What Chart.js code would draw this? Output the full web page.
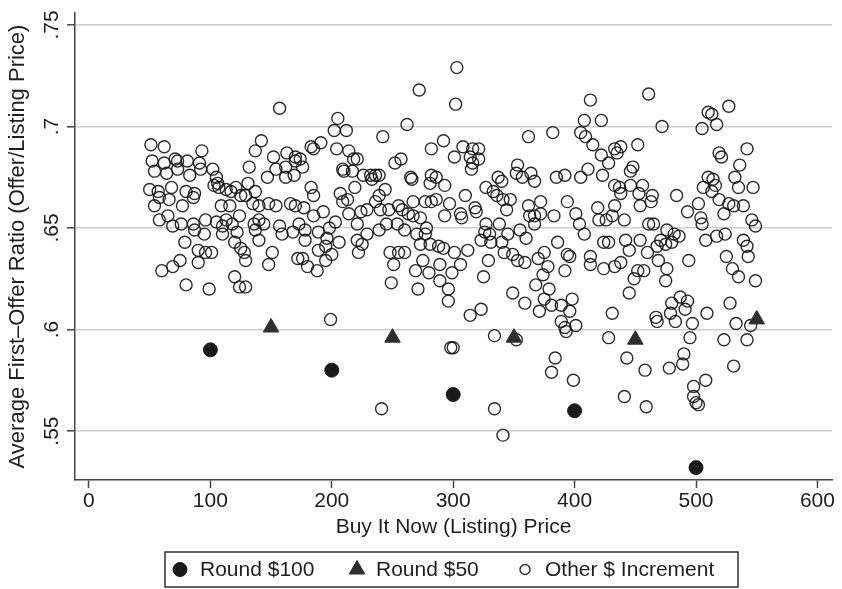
<!DOCTYPE html>
<html>
<head>
<meta charset="utf-8">
<script src="https://cdn.jsdelivr.net/npm/chart.js@4.4.1/dist/chart.umd.min.js"></script>
<style>
  html, body { margin: 0; padding: 0; background: #fff; }
  canvas { display: block; }
</style>
</head>
<body>
<canvas id="chart" width="842" height="589"></canvas>
<script>
// tick labels
var xTicks = [0, 100, 200, 300, 400, 500, 600];
var yTicks = [0.55, 0.6, 0.65, 0.7, 0.75];
var yTickLabels = ['.55', '.6', '.65', '.7', '.75'];

// round $100 listings
var round100X = [100, 200, 300, 400, 500];
var round100Y = [0.590, 0.580, 0.568, 0.560, 0.532];

// round $50 listings
var round50X = [150, 250, 350, 450, 550];
var round50Y = [0.601, 0.596, 0.596, 0.595, 0.605];

// other $ increment
var otherX = [
  157, 51, 62, 93, 142, 137, 152, 163, 170, 52, 62, 71, 73, 81, 91, 102, 132, 154, 162, 170,
  54, 64, 73, 83, 92, 147, 162, 169, 105, 106, 107, 103, 131, 137, 50, 57, 68, 58, 80, 87,
  86, 113, 117, 121, 125, 129, 54, 66, 77, 109, 116, 135, 140, 148, 154, 166, 170, 58, 65, 69,
  76, 86, 96, 105, 110, 113, 118, 124, 136, 140, 144, 157, 159, 168, 87, 95, 110, 122, 137, 79,
  90, 96, 101, 120, 125, 128, 140, 151, 75,
  60, 69, 90, 80, 99, 120, 124, 129, 129, 148, 172,
  272, 302, 303, 205, 202, 212, 262, 242, 292, 282, 301, 183, 185, 191, 174, 176, 204, 214, 218, 221,
  252, 257, 209, 210, 217, 226, 232, 236, 239, 233, 265, 266, 282, 286, 281, 293, 219, 183, 185, 207,
  209, 213, 244, 239, 236, 267, 277, 282, 286, 297, 177, 185, 193, 203, 214, 224, 229, 240, 247, 255,
  258, 263, 267, 273, 293, 173, 178, 189, 198, 221, 239, 245, 254, 260, 270, 278, 277, 178, 189, 195,
  196, 206, 221, 225, 222, 229, 248, 255, 260, 273, 281, 288, 292, 301,
  176, 180, 188, 195, 200, 251, 249, 269, 275, 280, 271, 289, 289, 299, 296, 296, 199, 241, 298, 300,
  413, 408, 422, 362, 382, 405, 409, 415, 308, 316, 321, 314, 321, 316, 315, 422, 433, 428, 411, 405,
  423, 433, 353, 352, 357, 364, 367, 385, 392, 337, 340, 327, 333, 336, 341, 347, 310, 306, 318, 319,
  307, 344, 362, 372, 363, 367, 372, 383, 394, 401, 404, 408, 419, 420, 426, 431, 433, 327, 326, 323,
  330, 331, 338, 345, 340, 355, 360, 367, 312, 342, 375, 386, 394, 424, 428, 413,
  306, 329, 325, 349, 353, 359, 370, 378, 374, 368, 379, 375, 392, 396, 413, 424, 433, 349, 359, 371,
  381, 389, 398, 396, 389, 392, 393, 401, 314, 323, 431, 334, 428, 384, 381, 399, 334, 341, 352,
  461, 527, 510, 513, 472, 505, 517, 438, 435, 452, 519, 521, 542, 448, 446, 536, 437, 446, 456, 453,
  438, 464, 463, 454, 484, 510, 514, 516, 506, 513, 532, 535, 547, 519, 502, 527, 531, 539, 441, 493,
  504, 505, 523, 546, 549, 461, 465, 476, 482, 486, 471, 480, 454, 442, 445, 460, 468, 475, 508, 517,
  524, 539, 542, 525, 543, 469, 494,
  476, 438, 452, 457, 449, 475, 445, 530, 535, 549, 480, 487, 493, 491, 479, 509, 467, 468, 483, 497,
  528, 533, 545, 495, 523, 542, 443, 458, 478, 489, 490, 531, 508, 498, 498, 500, 502, 441, 459
];
var otherY = [
  .709, .691, .690, .688, .693, .688, .685, .687, .685, .683, .682, .684, .683, .683, .682, .679, .680, .679, .680, .683,
  .678, .677, .679, .676, .679, .675, .675, .676, .675, .672, .670, .671, .672, .668, .669, .668, .670, .665, .668, .667,
  .665, .669, .668, .670, .666, .666, .661, .664, .661, .661, .661, .662, .661, .662, .661, .662, .661, .654, .656, .651,
  .652, .652, .654, .653, .651, .654, .652, .656, .652, .654, .652, .651, .647, .648, .649, .647, .647, .648, .649, .643,
  .639, .638, .638, .643, .640, .638, .644, .638, .634,
  .629, .631, .633, .622, .620, .626, .621, .621, .634, .632, .635,
  .718, .711, .729, .704, .698, .698, .701, .695, .693, .689, .685, .690, .689, .692, .684, .680, .689, .688, .684, .684,
  .682, .684, .679, .678, .678, .676, .676, .676, .676, .674, .675, .674, .676, .675, .672, .671, .670, .670, .666, .667,
  .663, .664, .669, .666, .663, .663, .663, .663, .664, .662, .660, .656, .658, .653, .657, .658, .659, .659, .659, .661,
  .659, .657, .656, .655, .656, .652, .649, .648, .650, .652, .649, .652, .652, .649, .647, .650, .647, .644, .639, .641,
  .645, .643, .644, .642, .638, .647, .638, .638, .638, .642, .642, .641, .640, .638,
  .635, .631, .629, .634, .637, .632, .623, .629, .634, .628, .620, .632, .624, .628, .620, .614, .605, .561, .591, .591,
  .713, .703, .703, .695, .697, .697, .695, .691, .690, .689, .689, .685, .684, .682, .679, .686, .689, .682, .679, .675,
  .676, .671, .681, .677, .675, .677, .673, .675, .676, .675, .673, .670, .668, .666, .664, .664, .666, .657, .660, .658,
  .655, .659, .661, .663, .656, .656, .657, .656, .663, .657, .652, .647, .660, .654, .654, .656, .661, .652, .648, .644,
  .647, .643, .652, .647, .643, .649, .645, .652, .639, .638, .638, .643, .637, .643, .643, .636,
  .632, .634, .626, .637, .634, .633, .635, .631, .627, .622, .620, .615, .629, .636, .632, .630, .631, .618, .613, .609,
  .612, .612, .615, .609, .604, .601, .599, .602, .607, .610, .608, .597, .596, .586, .579, .575, .561, .548, .595,
  .716, .710, .707, .706, .700, .699, .701, .690, .687, .691, .687, .685, .689, .680, .678, .681, .670, .671, .671, .667,
  .667, .666, .663, .661, .666, .675, .674, .671, .670, .668, .675, .670, .670, .664, .662, .662, .661, .661, .654, .658,
  .655, .652, .657, .654, .651, .652, .652, .649, .647, .646, .644, .643, .644, .644, .639, .638, .641, .642, .644, .646,
  .647, .644, .641, .636, .636, .634, .634,
  .630, .633, .629, .629, .625, .624, .618, .630, .626, .624, .613, .616, .614, .610, .608, .608, .606, .604, .604, .603,
  .613, .603, .602, .596, .595, .595, .586, .580, .581, .583, .588, .582, .575, .572, .567, .564, .563, .567, .562
];

var seriesLabels = ['Round $100', 'Round $50', 'Other $ Increment'];

function toPoints(xs, ys) {
  var pts = [];
  for (var i = 0; i < xs.length; i++) pts.push({ x: xs[i], y: ys[i] });
  return pts;
}

var FONT = '"Liberation Sans", Arial, Helvetica, sans-serif';
var INK = '#1e1e1e';
var AXIS = '#444';

// y tick labels are rotated in the original, draw them by hand at the scale's pixels
var rotatedYLabels = {
  id: 'rotatedYLabels',
  afterDraw: function (chart) {
    var ctx = chart.ctx;
    var ys = chart.scales.y;
    ctx.save();
    ctx.font = '21px ' + FONT;
    ctx.fillStyle = INK;
    ctx.textAlign = 'center';
    ctx.textBaseline = 'middle';
    for (var i = 0; i < yTicks.length; i++) {
      var py = ys.getPixelForValue(yTicks[i]);
      ctx.save();
      ctx.translate(52, py);
      ctx.rotate(-Math.PI / 2);
      ctx.fillText(yTickLabels[i], 0, 0);
      ctx.restore();
    }
    ctx.restore();
  }
};

// boxed legend under the x title
var boxedLegend = {
  id: 'boxedLegend',
  afterDraw: function (chart) {
    var ctx = chart.ctx;
    var box = { x: 165, y: 552, w: 573, h: 35 };
    var items = [
      { mx: 180, tx: 200 },
      { mx: 357, tx: 376 },
      { mx: 525, tx: 545 }
    ];
    var cy = box.y + box.h / 2;
    ctx.save();
    ctx.fillStyle = '#fff';
    ctx.fillRect(box.x, box.y, box.w, box.h);
    ctx.strokeStyle = '#333';
    ctx.lineWidth = 1.5;
    ctx.strokeRect(box.x, box.y, box.w, box.h);
    ctx.font = '21px ' + FONT;
    ctx.textAlign = 'left';
    ctx.textBaseline = 'middle';
    for (var i = 0; i < items.length; i++) {
      var ds = chart.data.datasets[i];
      ctx.fillStyle = ds.backgroundColor;
      ctx.strokeStyle = ds.borderColor;
      ctx.lineWidth = ds.borderWidth;
      var r = ds.pointRadius;
      if (i === 2) r = 5;
      Chart.helpers.drawPoint(ctx, { pointStyle: ds.pointStyle, radius: r, borderWidth: ds.borderWidth, rotation: 0 }, items[i].mx, cy);
      ctx.fillStyle = INK;
      ctx.fillText(ds.label, items[i].tx, cy + 1);
    }
    ctx.restore();
  }
};

new Chart(document.getElementById('chart'), {
  type: 'scatter',
  data: {
    datasets: [
      {
        label: seriesLabels[0],
        data: toPoints(round100X, round100Y),
        pointStyle: 'circle',
        pointRadius: 7,
        backgroundColor: '#1a1a1a',
        borderColor: '#1a1a1a',
        borderWidth: 1,
        order: 1
      },
      {
        label: seriesLabels[1],
        data: toPoints(round50X, round50Y),
        pointStyle: 'triangle',
        pointRadius: 9,
        backgroundColor: '#2e2e2e',
        borderColor: '#2e2e2e',
        borderWidth: 1,
        order: 2
      },
      {
        label: seriesLabels[2],
        data: toPoints(otherX, otherY),
        pointStyle: 'circle',
        pointRadius: 6,
        backgroundColor: 'rgba(0,0,0,0)',
        borderColor: 'rgba(20,20,20,0.9)',
        borderWidth: 1.4,
        order: 3
      }
    ]
  },
  options: {
    responsive: false,
    animation: false,
    events: [],
    layout: { padding: { top: 13, right: 6, bottom: 49, left: 0 } },
    plugins: {
      legend: { display: false },
      tooltip: { enabled: false }
    },
    scales: {
      x: {
        type: 'linear',
        min: -11.5,
        max: 612,
        afterBuildTicks: function (scale) {
          scale.ticks = xTicks.map(function (v) { return { value: v }; });
        },
        afterFit: function (scale) { scale.height = 60; },
        grid: { drawOnChartArea: false, drawTicks: true, tickLength: 8, tickColor: AXIS, tickWidth: 1.5 },
        border: { display: true, color: AXIS, width: 1.5 },
        ticks: {
          color: INK,
          padding: 1,
          font: { family: FONT, size: 21 },
          callback: function (v) { return String(v); }
        },
        title: {
          display: true,
          text: 'Buy It Now (Listing) Price',
          color: INK,
          font: { family: FONT, size: 21 },
          padding: 0
        }
      },
      y: {
        type: 'linear',
        min: 0.5259,
        max: 0.7559,
        afterBuildTicks: function (scale) {
          scale.ticks = yTicks.map(function (v) { return { value: v }; });
        },
        afterFit: function (scale) { scale.width = 75; },
        grid: { color: '#cfcfcf', lineWidth: 1.6, drawTicks: true, tickLength: 8, tickColor: AXIS, tickWidth: 1.5 },
        border: { display: true, color: AXIS, width: 1.5 },
        ticks: { display: false },
        title: {
          display: true,
          text: 'Average First\u2013Offer Ratio (Offer/Listing Price)',
          color: INK,
          font: { family: FONT, size: 22 },
          padding: { top: 5, bottom: 0 }
        }
      }
    }
  },
  plugins: [rotatedYLabels, boxedLegend]
});
</script>
</body>
</html>
